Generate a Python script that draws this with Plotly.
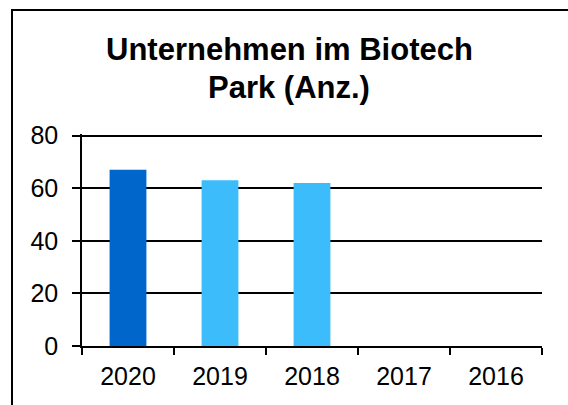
import plotly.graph_objects as go

# Companies in the Biotech Park per year
years = ["2020", "2019", "2018", "2017", "2016"]
companies = [67, 63, 62, None, None]
bar_colors = ["#0066CC", "#3CBCFA", "#3CBCFA", "#3CBCFA", "#3CBCFA"]
y_ticks = [0, 20, 40, 60, 80]
title_lines = ["Unternehmen im Biotech", "Park (Anz.)"]

W, H = 568, 405
# a little headroom so the top gridline at 80 is still drawn
Y_MAX = 80.6
L, R, T, B = 82, 26, 134, 59
plot_w = W - L - R
plot_h = H - T - B


def px_x(px):
    return (px - L) / plot_w


def px_y(py):
    return (H - B - py) / plot_h


fig = go.Figure(
    go.Bar(
        x=years,
        y=companies,
        marker=dict(color=bar_colors, line=dict(width=0)),
        width=0.4,
        hoverinfo="x+y",
    )
)

font_family = "Arial, Liberation Sans, sans-serif"

# two-line bold title, each line placed on its own
title_centers = [49.5, 87.5]
annotations = [
    dict(
        text=f"<b>{line}</b>",
        xref="paper",
        yref="paper",
        x=px_x(289),
        y=px_y(cy),
        xanchor="center",
        yanchor="middle",
        showarrow=False,
        font=dict(family=font_family, size=31, color="black"),
    )
    for line, cy in zip(title_lines, title_centers)
]

fig.update_layout(
    width=W,
    height=H,
    margin=dict(l=L, r=R, t=T, b=B, pad=0),
    paper_bgcolor="white",
    plot_bgcolor="white",
    showlegend=False,
    font=dict(family=font_family, color="black", size=24),
    annotations=annotations,
    xaxis=dict(
        type="category",
        categoryorder="array",
        categoryarray=years,
        range=[-0.5, 4.5],
        showline=True,
        linecolor="black",
        linewidth=2,
        ticks="outside",
        tickson="boundaries",
        ticklen=7,
        tickwidth=1.5,
        tickcolor="black",
        ticklabelstandoff=7,
        showgrid=False,
        zeroline=False,
        tickfont=dict(size=25, color="black"),
        fixedrange=True,
    ),
    yaxis=dict(
        range=[0, Y_MAX],
        tickvals=y_ticks,
        showline=True,
        linecolor="black",
        linewidth=1.5,
        ticks="outside",
        ticklen=8,
        tickwidth=1.5,
        tickcolor="black",
        ticklabelstandoff=9,
        showgrid=True,
        gridcolor="black",
        gridwidth=1.5,
        zeroline=False,
        tickfont=dict(size=25, color="black"),
        fixedrange=True,
    ),
    shapes=[
        # chart frame, running past the right and bottom edges
        dict(
            type="rect",
            xref="paper",
            yref="paper",
            x0=px_x(12),
            x1=px_x(W + 20),
            y0=px_y(H + 20),
            y1=px_y(10),
            line=dict(color="black", width=2),
            fillcolor="rgba(0,0,0,0)",
            layer="below",
        )
    ],
)

fig.write_html("out.html", config={"displayModeBar": False})
